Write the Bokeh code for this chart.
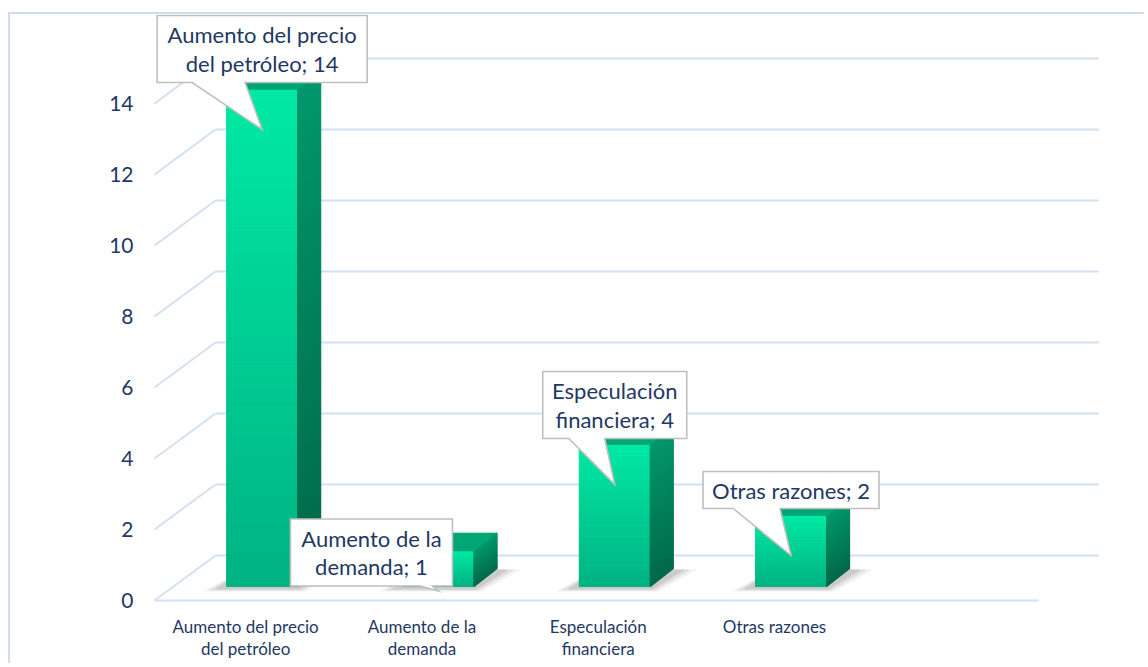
import numpy as np
from bokeh.plotting import figure
from bokeh.models import Range1d, FixedTicker
from bokeh.core.properties import value
from bokeh.embed import file_html
from bokeh.resources import INLINE

# ---------------- data ----------------
categories = ["Aumento del precio\ndel petróleo", "Aumento de la\ndemanda",
              "Especulación\nfinanciera", "Otras razones"]
values = [14, 1, 4, 2]
y_ticks = [0, 2, 4, 6, 8, 10, 12, 14]
n_slots = 5  # four categories plus one empty slot on the floor

# ---------------- style ----------------
FONT = "Lato"
TEXT_COLOR = "#1F3864"
GRID_COLOR = "#D3E0F1"
BORDER_COLOR = "#D0DDEE"
CALLOUT_LINE = "#BFBFBF"
FRONT_TOP, FRONT_BOT = (0x00, 0xE9, 0xA4), (0x00, 0xB2, 0x82)
SIDE_TOP, SIDE_BOT = (0x00, 0x97, 0x6B), (0x00, 0x68, 0x48)
TOP_FACE = "#00A674"

# geometry in page pixels
SLOT = 176.3        # px per category slot
PXV = 35.5          # px per value unit
X0, Y0 = 157, 600   # page position of slot 0 / value 0 on the front plane
ORG_X, ORG_Y = 10, 14       # page position of the canvas (after CSS margin + border)
W, H = 1136, 651
FL, FR, FT, FB = 150, ORG_X + W, ORG_Y, 606  # frame edges (page px)

def dx(px):
    return px / SLOT

def dy(px):
    return px / PXV

p = figure(width=W, height=H, output_backend="svg", toolbar_location=None,
           x_range=Range1d((FL - X0) / SLOT, (FR - X0) / SLOT),
           y_range=Range1d((Y0 - FB) / PXV, (Y0 - FT) / PXV),
           min_border_left=FL - ORG_X, min_border_right=0,
           min_border_top=0, min_border_bottom=(ORG_Y + H) - FB,
           outline_line_color=None, background_fill_color="white",
           border_fill_color="white")
p.styles = {"border-top": f"2px solid {BORDER_COLOR}",
            "border-left": f"2px solid {BORDER_COLOR}",
            "margin-top": "12px", "margin-left": "8px"}
p.xgrid.visible = False
p.ygrid.visible = False

# ---- axes ----
p.yaxis.ticker = FixedTicker(ticks=y_ticks)
p.xaxis.ticker = FixedTicker(ticks=[i + 0.5 for i in range(len(categories))])
p.xaxis.major_label_overrides = {i + 0.5: c for i, c in enumerate(categories)}
for ax in (p.xaxis, p.yaxis):
    ax.axis_line_color = None
    ax.major_tick_line_color = None
    ax.minor_tick_line_color = None
    ax.major_tick_in = 0
    ax.major_tick_out = 0
    ax.major_label_text_font = FONT
    ax.major_label_text_color = TEXT_COLOR
p.yaxis.major_label_text_font_size = "21px"
p.yaxis.major_label_standoff = 17
p.xaxis.major_label_text_font_size = "17px"
p.xaxis.major_label_text_line_height = 1.05
p.xaxis.major_label_standoff = 9

# ---- walls / gridlines ----
BX, BY = 61, 45  # back wall offset in px
gx, gy = [], []
for t in y_ticks:
    gx.append([dx(-3), dx(-3 + BX)])
    gy.append([t, t + dy(BY)])
    gx.append([dx(-3 + BX), dx(941)])
    gy.append([t + dy(BY), t + dy(BY)])
gx.append([dx(-3), dx(881)])
gy.append([0, 0])
p.multi_line(gx, gy, line_color=GRID_COLOR, line_width=2)

def mix(c1, c2, f):
    return "#%02x%02x%02x" % tuple(int(round(a + (b - a) * f)) for a, b in zip(c1, c2))

# ---- bars ----
HW = dx(35.5)
BASE = dy(14)
DXD, DYD = dx(23), dy(18)
NB = 40
for i, v in enumerate(values):
    cx = i + 0.5 + dx(16.5)
    L, R = cx - HW, cx + HW
    b, top = BASE, v + BASE
    # soft floor shadow
    for k, a in enumerate([0.05, 0.07, 0.09]):
        g = (2 - k)
        p.patch([L - dx(12 + 6 * g), R + dx(2 + 3 * g), R + DXD + dx(12 + 6 * g), L + DXD - dx(4)],
                [b - dy(3 + g), b - dy(3 + g), b + DYD - dy(1), b + DYD],
                fill_color="black", fill_alpha=a, line_color=None)
    ys = np.linspace(b, top, NB + 1)
    fcols = [mix(FRONT_BOT, FRONT_TOP, (k + 0.5) / NB) for k in range(NB)]
    scols = [mix(SIDE_BOT, SIDE_TOP, (k + 0.5) / NB) for k in range(NB)]
    p.quad(left=[L] * NB, right=[R] * NB, bottom=ys[:-1], top=ys[1:],
           fill_color=fcols, line_color=fcols, line_width=1.0)
    sx = [[R, R + DXD, R + DXD, R] for k in range(NB)]
    sy = [[ys[k], ys[k] + DYD, ys[k + 1] + DYD, ys[k + 1]] for k in range(NB)]
    p.patches(sx, sy, fill_color=scols, line_color=scols, line_width=1.2)
    p.patch([L, L + DXD, R + DXD, R], [top, top + DYD, top + DYD, top],
            fill_color=TOP_FACE, line_color=TOP_FACE, line_width=0.6)

# ---- callouts ----
CALLOUT_W = [210, 162, 144, 176]
CALLOUT_DX = [0, -67, 0, 0]
CALLOUT_GAP = [47, 5, 46, 47]
POINTER_BASE = [(-70, -17), (-18, -6), (-46, -10), (-58, -11)]
cxs, cys, ctx = [], [], []
for i, v in enumerate(values):
    tip_x = i + 0.5 + dx(16.5)
    tip_y = v + BASE - dy(40)
    label = f"{categories[i]}; {v}"
    nlines = label.count("\n") + 1
    bc = tip_x + dx(CALLOUT_DX[i])
    bl, br = bc - dx(CALLOUT_W[i] / 2), bc + dx(CALLOUT_W[i] / 2)
    bb = tip_y + dy(CALLOUT_GAP[i])
    bt = bb + dy(30 * nlines + 7)
    pl, pr = tip_x + dx(POINTER_BASE[i][0]), tip_x + dx(POINTER_BASE[i][1])
    p.patch([bl, br, br, pr, tip_x, pl, bl], [bt, bt, bb, bb, tip_y, bb, bb],
            fill_color="white", line_color=CALLOUT_LINE, line_width=1.6,
            line_join="miter")
    cxs.append(bc)
    cys.append((bb + bt) / 2)
    ctx.append(label)
p.text(cxs, cys, text=ctx, text_font=value(FONT), text_font_size="22px",
       text_color=TEXT_COLOR, text_align="center", text_baseline="middle",
       text_line_height=1.06)

open("out.html", "w").write(file_html(p, INLINE))
